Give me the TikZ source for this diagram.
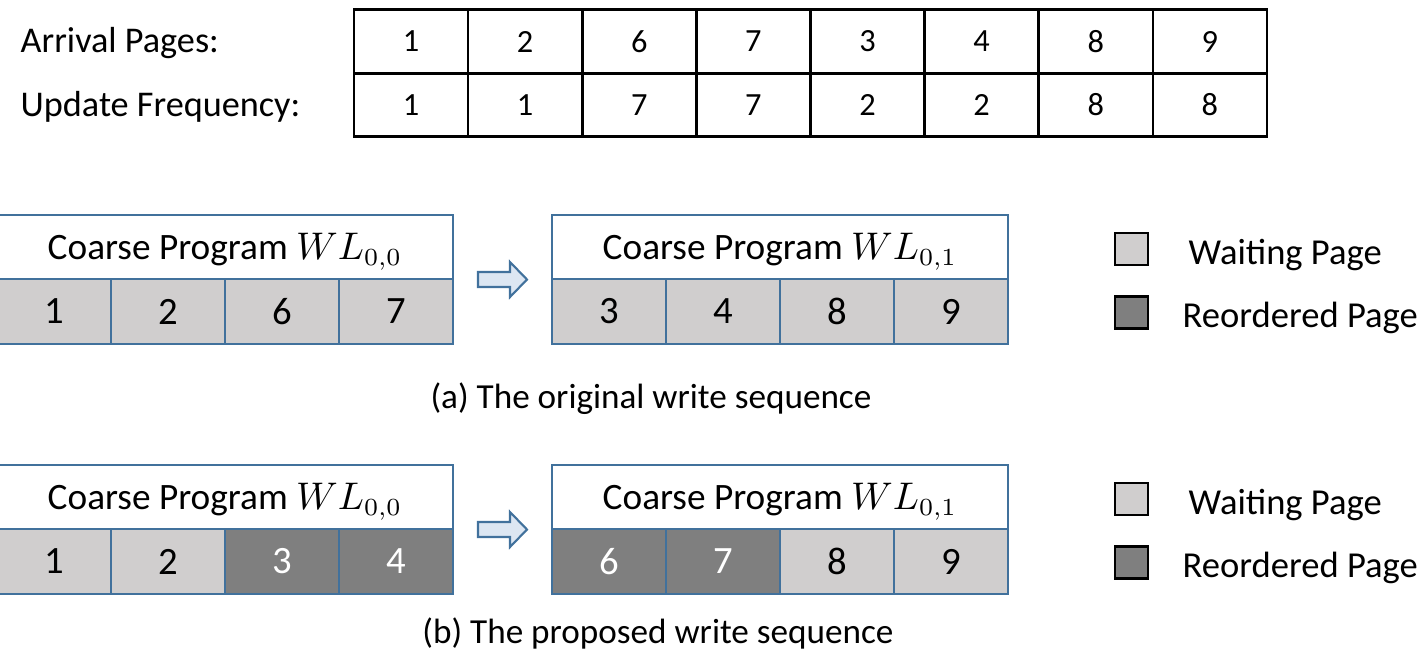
\documentclass[tikz,border=0pt]{standalone}
\usepackage{fontspec}
\setmainfont{Carlito}
\usepackage{xcolor}
\usepackage{tikz}
\usetikzlibrary{positioning}
\definecolor{edgeblue}{RGB}{65,113,156}
\definecolor{waitgray}{RGB}{208,206,206}
\definecolor{reordgray}{RGB}{127,127,127}
\definecolor{arrowfill}{RGB}{220,230,242}

\begin{document}
\begin{tikzpicture}[x=0.01cm, y=-0.01cm,
    tcell/.style={draw, line width=0.75pt, minimum width=1.141cm, minimum height=0.635cm, inner sep=0pt, font=\fontsize{9.2}{11}\selectfont},
    rowlabel/.style={anchor=base west, inner sep=0pt, font=\fontsize{10.3}{12}\selectfont},
    header/.style={draw=edgeblue, fill=white, line width=0.6pt, minimum width=4.56cm, minimum height=0.64cm, inner sep=0pt, text height=0.25cm, text depth=0pt, font=\fontsize{10.6}{12}\selectfont},
    wpage/.style={draw=edgeblue, fill=waitgray, line width=0.6pt, minimum width=1.14cm, minimum height=0.65cm, inner sep=0pt, font=\fontsize{11}{13}\selectfont},
    rpage/.style={wpage, fill=reordgray, text=white},
    keybox/.style={draw, line width=0.8pt, minimum width=0.33cm, minimum height=0.32cm, inner sep=0pt},
    keytext/.style={anchor=base west, inner sep=0pt, font=\fontsize{10.4}{12}\selectfont},
    caption/.style={anchor=base, inner sep=0pt, font=\fontsize{10}{12}\selectfont},
    moveto/.style={draw=edgeblue, fill=arrowfill, line width=0.6pt}]

    \useasboundingbox (0,0) rectangle (1426,656);

    % arrival order and update frequency
    \foreach \p [count=\i] in {1,2,6,7,3,4,8,9}
        \node[tcell] (arr\i) at ({354+114.125*(\i-0.5)}, 41.5) {\p};
    \foreach \f [count=\i] in {1,1,7,7,2,2,8,8}
        \node[tcell] (upd\i) at ({354+114.125*(\i-0.5)}, 105) {\f};
    \node[rowlabel] (arrlabel) at (20, 52)  {Arrival Pages:};
    \node[rowlabel] (updlabel) at (20, 116) {Update Frequency:};

    % (a) original write sequence
    \node[header] (hdra0) at (225, 247) {Coarse Program $WL_{0,0}$};
    \node[header] (hdra1) at (780, 247) {Coarse Program $WL_{0,1}$};
    \foreach \p [count=\i] in {1,2,6,7}
        \node[wpage] (pga0\i) at ({-3+114*(\i-0.5)}, 311.5) {\p};
    \foreach \p [count=\i] in {3,4,8,9}
        \node[wpage] (pga1\i) at ({552+114*(\i-0.5)}, 311.5) {\p};
    \draw[moveto] (478,272) -- (510,272) -- (510,262) -- (527,279.5)
        -- (510,297) -- (510,287) -- (478,287) -- cycle;
    \node[keybox, fill=waitgray]  (keyaw) at (1131.5, 249) {};
    \node[keybox, fill=reordgray] (keyar) at (1131.5, 312.5) {};
    \node[keytext] (keyawtxt) at (1188, 264) {Waiting Page};
    \node[keytext] (keyartxt) at (1182, 327) {Reordered Page};
    \node[caption] (capa) at (651, 408) {(a) The original write sequence};

    % (b) proposed write sequence
    \node[header] (hdrb0) at (225, 497) {Coarse Program $WL_{0,0}$};
    \node[header] (hdrb1) at (780, 497) {Coarse Program $WL_{0,1}$};
    \foreach \p/\s [count=\i] in {1/wpage,2/wpage,3/rpage,4/rpage}
        \node[\s] (pgb0\i) at ({-3+114*(\i-0.5)}, 561.5) {\p};
    \foreach \p/\s [count=\i] in {6/rpage,7/rpage,8/wpage,9/wpage}
        \node[\s] (pgb1\i) at ({552+114*(\i-0.5)}, 561.5) {\p};
    \draw[moveto] (478,522) -- (510,522) -- (510,512) -- (527,529.5)
        -- (510,547) -- (510,537) -- (478,537) -- cycle;
    \node[keybox, fill=waitgray]  (keybw) at (1131.5, 499) {};
    \node[keybox, fill=reordgray] (keybr) at (1131.5, 562.5) {};
    \node[keytext] (keybwtxt) at (1188, 514) {Waiting Page};
    \node[keytext] (keybrtxt) at (1182, 577) {Reordered Page};
    \node[caption] (capb) at (658, 643) {(b) The proposed write sequence};
\end{tikzpicture}
\end{document}
